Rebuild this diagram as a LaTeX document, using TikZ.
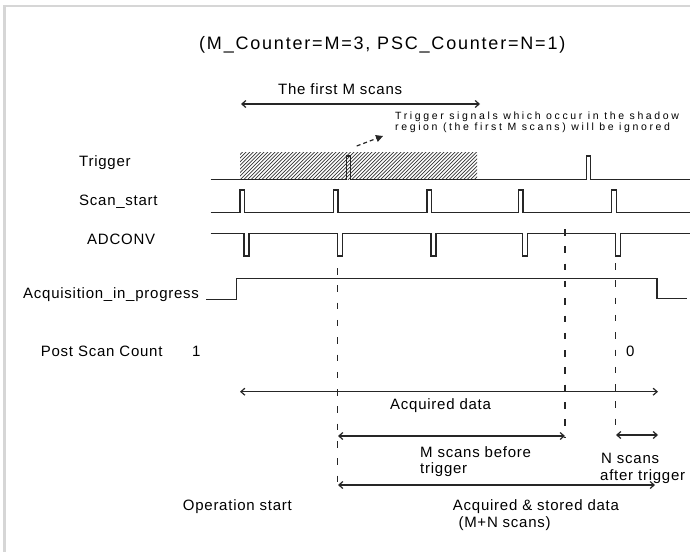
\documentclass[tikz,border=0pt]{standalone}
\usepackage{fontspec}
\setmainfont{Liberation Sans}
\newfontfamily\lblfont[LetterSpace=5]{Liberation Sans}
\newfontfamily\notefont[LetterSpace=25]{Liberation Sans}
\newfontfamily\ttlfont[LetterSpace=10]{Liberation Sans}
\usetikzlibrary{arrows.meta}
\begin{document}
\begin{tikzpicture}[x=1pt,y=-1pt,
  lbl/.style={anchor=base west, inner sep=0pt, font=\lblfont\fontsize{15}{18}\selectfont},
  ttl/.style={anchor=base west, inner sep=0pt, font=\ttlfont\fontsize{18}{22}\selectfont},
  note/.style={anchor=base west, inner sep=0pt, font=\notefont\fontsize{10.5}{12}\selectfont},
  sig/.style={line width=1.3pt, black!85, line join=miter},
  guide/.style={line width=1.5pt, black!85, dash pattern=on 6.5pt off 10.8pt},
  dimarrow/.style={line width=1.2pt, black!85, {Straight Barb[length=4pt,width=7pt]}-{Straight Barb[length=4pt,width=7pt]}},
  hatchline/.style={line width=0.7pt, black!80}]
% page and frame
\fill[white] (0,0) rectangle (690,552);
\useasboundingbox (0,0) rectangle (690,552);
\fill[black!16] (2.7,5) rectangle (690,7.3);
\fill[black!16] (2.7,5) rectangle (5.7,552);

% title and top annotation
\node[ttl] (title) at (199,49) {(M\_Counter=M=3, PSC\_Counter=N=1)};
\node[lbl] (firstm) at (278,94.3) {The first M scans};
\coordinate (fmL) at (241,104);
\coordinate (fmR) at (480,104);
\draw[dimarrow] (fmL) -- (fmR);
\node[note] (note1) at (395,119.5) {Trigger signals which occur in the shadow};
\node[note] (note2) at (395,130.5) {region (the first M scans) will be ignored};
\coordinate (nA) at (356.7,146);
\coordinate (nB) at (383,136);
\draw[line width=1.2pt, black!85, dash pattern=on 4pt off 3pt, -{Triangle[length=7pt,width=7pt]}] (nA) -- (nB);

% row labels
\node[lbl] (ltrig) at (79,166.7) {Trigger};
\node[lbl] (lscan) at (79,205.5) {Scan\_start};
\node[lbl] (ladc) at (87,244) {ADCONV};
\node[lbl] (lacq) at (23,298.3) {Acquisition\_in\_progress};
\node[lbl] (lpsc) at (40.7,356.7) {Post Scan Count};
\node[lbl] (one) at (192,356.7) {1};
\node[lbl] (zero) at (626,356.3) {0};

% shadow region
\begin{scope}
  \clip (240,152) rectangle (477,179.5);
  \foreach \i in {0,...,75} {
    \draw[hatchline] (210+\i*3.6,181) -- ++(31,-31);
  }
\end{scope}

% Trigger
\draw[sig] (210.7,179.5) -- (346.7,179.5) -- (346.7,156) -- (350.7,156) -- (350.7,179.5)
  -- (586.7,179.5) -- (586.7,156) -- (590.7,156) -- (590.7,179.5) -- (690,179.5);

% Scan_start
\draw[sig] (210.7,212.3)
  foreach \s in {240,333.5,427,518.5,611.7} { -- (\s,212.3) -- (\s,190) -- (\s+4.5,190) -- (\s+4.5,212.3) }
  -- (690,212.3);

% ADCONV
\draw[sig] (210.7,233.3)
  foreach \s in {240,333.5,427,518.5,611.7} { -- (\s+4,233.3) -- (\s+4,256) -- (\s+9,256) -- (\s+9,233.3) }
  -- (690,233.3);

% Acquisition_in_progress
\draw[sig] (206,299.3) -- (236.7,299.3) -- (236.7,278.3) -- (657,278.3) -- (657,298.3) -- (686.7,298.3);

% guide lines
\coordinate (g1t) at (337.5,268);
\coordinate (g1b) at (337.5,487);
\coordinate (g2t) at (565,229);
\coordinate (g2b) at (565,438);
\coordinate (g3t) at (615.5,263);
\coordinate (g3b) at (615.5,431);
\draw[guide] (g1t) -- (g1b);
\draw[guide] (g2t) -- (g2b);
\draw[guide] (g3t) -- (g3b);

% dimension arrows
\coordinate (adL) at (240,391.7);
\coordinate (adR) at (658,391.7);
\draw[dimarrow] (adL) -- (adR);
\node[lbl] (acqdata) at (390,409.5) {Acquired data};

\coordinate (mbL) at (338,436);
\coordinate (mbR) at (565,436);
\draw[dimarrow] (mbL) -- (mbR);
\node[lbl] (mb1) at (420,457.3) {M scans before};
\node[lbl] (mb2) at (420,473.5) {trigger};

\coordinate (naL) at (616,435);
\coordinate (naR) at (658,435);
\draw[dimarrow] (naL) -- (naR);
\node[lbl] (na1) at (601,463.3) {N scans};
\node[lbl] (na2) at (600,480) {after trigger};

\coordinate (asL) at (338,485);
\coordinate (asR) at (655,485);
\draw[dimarrow] (asL) -- (asR);
\node[lbl] (as1) at (452.7,510.7) {Acquired \& stored data};
\node[lbl] (as2) at (458.3,527.7) {(M+N scans)};

\node[lbl] (opstart) at (182.7,510.7) {Operation start};
\end{tikzpicture}
\end{document}
